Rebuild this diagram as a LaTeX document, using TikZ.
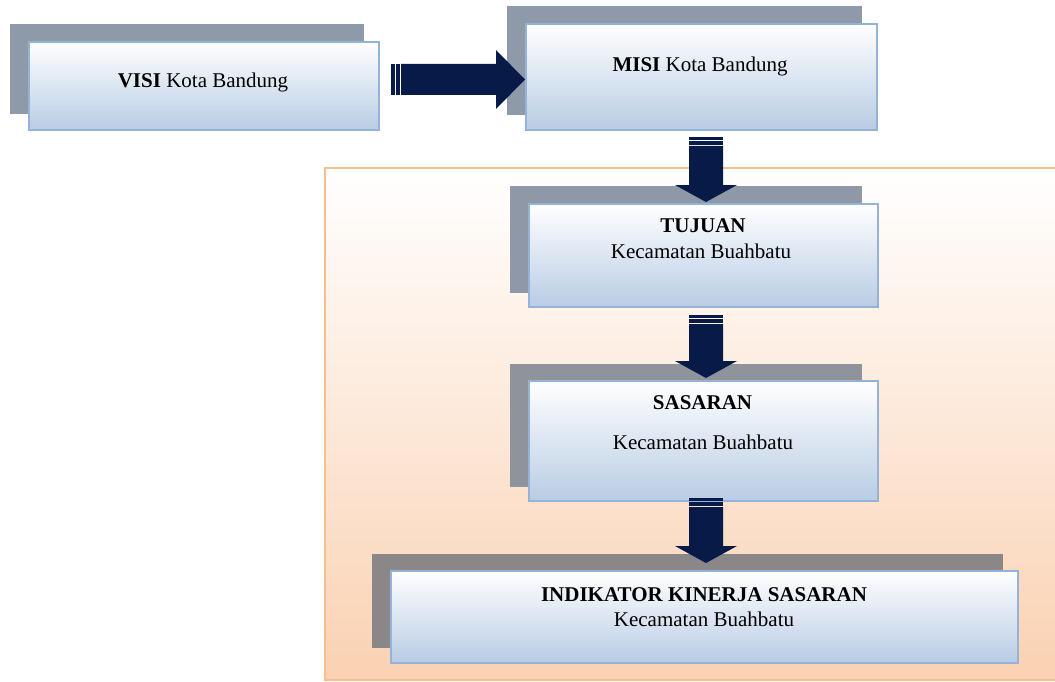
\documentclass[tikz,border=0pt]{standalone}
\usepackage{fontspec}
\setmainfont{Liberation Serif}
\usetikzlibrary{calc}

\definecolor{navy}{RGB}{8,26,72}
\definecolor{boxblue}{RGB}{184,204,228}
\definecolor{boxline}{RGB}{149,179,215}
\definecolor{shadeA}{RGB}{142,154,170}
\definecolor{shadeB}{RGB}{142,152,166}
\definecolor{shadeC}{RGB}{143,147,156}
\definecolor{shadeD}{RGB}{139,135,137}
\definecolor{panelline}{RGB}{247,190,143}
\definecolor{panelfill}{RGB}{250,209,178}

\tikzset{
  card/.style={draw=boxline, line width=2pt, top color=white, bottom color=boxblue,
    rectangle, anchor=north west, inner sep=0pt},
  lbl/.style={anchor=base, inner sep=0pt, font=\fontsize{21}{25}\selectfont, text=black},
  arrowfill/.style={fill=navy}
}

% vertical block arrow: #1 = top of the stripes, #2 = tip
\newcommand\vblockarrow[2]{%
  \fill[arrowfill] ($(#1)+(-17,0)$) rectangle ($(#1)+(17,3)$);
  \fill[arrowfill] ($(#1)+(-17,4)$) rectangle ($(#1)+(17,8)$);
  \fill[arrowfill] ($(#1)+(-17,9)$) -- ($(#1)+(17,9)$) -- ($(#2)+(17,-17)$)
    -- ($(#2)+(31,-17)$) -- (#2) -- ($(#2)+(-31,-17)$) -- ($(#2)+(-17,-17)$) -- cycle;
}

\begin{document}
\begin{tikzpicture}[x=1pt,y=-1pt]
\useasboundingbox (0,0) rectangle (1055,682);
\fill[white] (0,0) rectangle (1055,682);

% peach panel behind the lower levels
\draw[draw=panelline, line width=2pt, top color=white, bottom color=panelfill]
  (325,168) rectangle (1062,680);

% shadows
\fill[shadeA] (10,24) rectangle (364,114);
\fill[shadeA] (507,6) rectangle (862,115);
\fill[shadeB] (510,186) rectangle (862,293);
\fill[shadeC] (510,364) rectangle (862,487);
\fill[shadeD] (372,554) rectangle (1003,648);

% cards
\node[card, minimum width=350pt, minimum height=88pt]  (visi)  at (28,41)  {};
\node[card, minimum width=351pt, minimum height=106pt] (misi)  at (525,23) {};
\node[card, minimum width=349pt, minimum height=103pt] (tujuan) at (528,203) {};
\node[card, minimum width=349pt, minimum height=120pt] (sasaran) at (528,380) {};
\node[card, minimum width=627pt, minimum height=92pt]  (indikator) at (390,570) {};

% labels
\node[lbl] (visiT) at (203,88) {\textbf{VISI} Kota Bandung};
\node[lbl] (misiT) at (700,72) {\textbf{MISI} Kota Bandung};
\node[lbl] (tujuanT) at (703,232) {\textbf{TUJUAN}};
\node[lbl] (tujuanK) at (701,258) {Kecamatan Buahbatu};
\node[lbl] (sasaranT) at (702.5,409) {\textbf{SASARAN}};
\node[lbl] (sasaranK) at (703,449) {Kecamatan Buahbatu};
\node[lbl] (indikatorT) at (704,601) {\textbf{INDIKATOR KINERJA SASARAN}};
\node[lbl] (indikatorK) at (704,626) {Kecamatan Buahbatu};

% arrow end points
\coordinate (h1s) at ([xshift=11pt,yshift=6.5pt]visi.east);
\coordinate (h1e) at (misi.west |- h1s);
\coordinate (a1s) at ([xshift=4.5pt,yshift=-6pt]misi.south);
\coordinate (a1e) at ([yshift=1pt]a1s |- tujuan.north);
\coordinate (a2s) at ([xshift=2.5pt,yshift=-7pt]tujuan.south);
\coordinate (a2e) at ([yshift=2pt]a2s |- sasaran.north);
\coordinate (a3s) at ([xshift=2.5pt,yshift=4pt]sasaran.south);
\coordinate (a3e) at ([yshift=7pt]a3s |- indikator.north);

% horizontal block arrow
\fill[arrowfill] ($(h1s)+(0,-15.5)$) rectangle ($(h1s)+(4,15.5)$);
\fill[arrowfill] ($(h1s)+(5,-15.5)$) rectangle ($(h1s)+(9,15.5)$);
\fill[arrowfill] ($(h1s)+(10,-15.5)$) -- ($(h1e)+(-29,-15.5)$) -- ($(h1e)+(-29,-29.5)$)
  -- (h1e) -- ($(h1e)+(-29,29.5)$) -- ($(h1e)+(-29,15.5)$) -- ($(h1s)+(10,15.5)$) -- cycle;

% vertical block arrows
\vblockarrow{a1s}{a1e}
\vblockarrow{a2s}{a2e}
\vblockarrow{a3s}{a3e}
\end{tikzpicture}
\end{document}
